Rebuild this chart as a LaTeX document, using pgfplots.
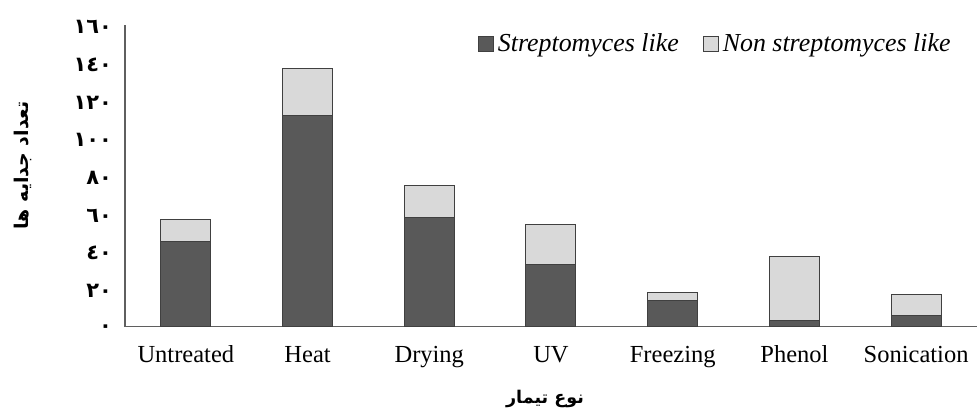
\documentclass[border=0pt]{standalone}
\usepackage{fontspec}
\setmainfont{Liberation Serif}
\newfontfamily\arabicfont[Script=Arabic]{DejaVu Sans}
\TeXXeTstate=1
\usepackage{pgfplots}
\pgfplotsset{compat=1.18}
\definecolor{darkbar}{HTML}{595959}
\definecolor{lightbar}{HTML}{D9D9D9}
\definecolor{edge}{HTML}{404040}
\definecolor{axisgray}{HTML}{5F5F5F}
\begin{document}
\begin{tikzpicture}
\begin{axis}[
    ybar stacked,
    bar width=25bp,
    scale only axis,
    width=426bp, height=150.75bp,
    xmin=-0.5, xmax=6.5,
    ymin=0, ymax=160,
    axis x line=bottom, axis y line=left,
    axis line style={draw=axisgray, line width=0.75bp, -},
    xtick=data,
    xticklabels={Untreated,Heat,Drying,UV,Freezing,Phenol,Sonication},
    ytick={0,20,...,160},
    yticklabels={٠,٢٠,٤٠,٦٠,٨٠,١٠٠,١٢٠,١٤٠,١٦٠},
    major tick length=0,
    x tick label style={font=\fontsize{12.3}{14}\selectfont, anchor=base, yshift=-18bp},
    y tick label style={font=\arabicfont\bfseries\fontsize{10.5}{12}\selectfont, anchor=east, xshift=-3bp, yshift=-1bp},
    xlabel={\arabicfont\bfseries\beginR نوع تیمار\endR},
    xlabel style={font=\fontsize{8.8}{10}\selectfont, at={(rel axis cs:0.493,0)}, anchor=center, yshift=-36bp},
    ylabel={\arabicfont\bfseries\beginR تعداد جدایه ها\endR},
    ylabel style={font=\fontsize{9.5}{11}\selectfont, at={(rel axis cs:0,0.535)}, anchor=center, yshift=51bp},
    every axis plot post/.append style={
        legend image code/.code={\draw[#1, line width=0.5bp] (0bp,-3.75bp) rectangle (7.5bp,3.75bp);}},
    legend columns=2,
    legend style={draw=none, fill=none, at={(rel axis cs:1,1)}, anchor=east,
        xshift=-8bp, yshift=-9.5bp,
        font=\itshape\fontsize{13}{15}\selectfont,
        /tikz/every even column/.append style={column sep=10bp}},
]
\addplot[fill=darkbar, draw=edge, line width=0.5bp]
    coordinates {(0,45) (1,112) (2,58) (3,33) (4,14) (5,3) (6,6)};
\addlegendentry{Streptomyces like}
\addplot[fill=lightbar, draw=edge, line width=0.5bp]
    coordinates {(0,12) (1,25) (2,17) (3,21) (4,4) (5,34) (6,11)};
\addlegendentry{Non streptomyces like}
\coordinate (O) at (rel axis cs:0,0);
\end{axis}
\pgfresetboundingbox
\path (O) ++(-62.5bp,-42.75bp) rectangle ++(488.5bp,206bp);
\end{tikzpicture}
\end{document}
